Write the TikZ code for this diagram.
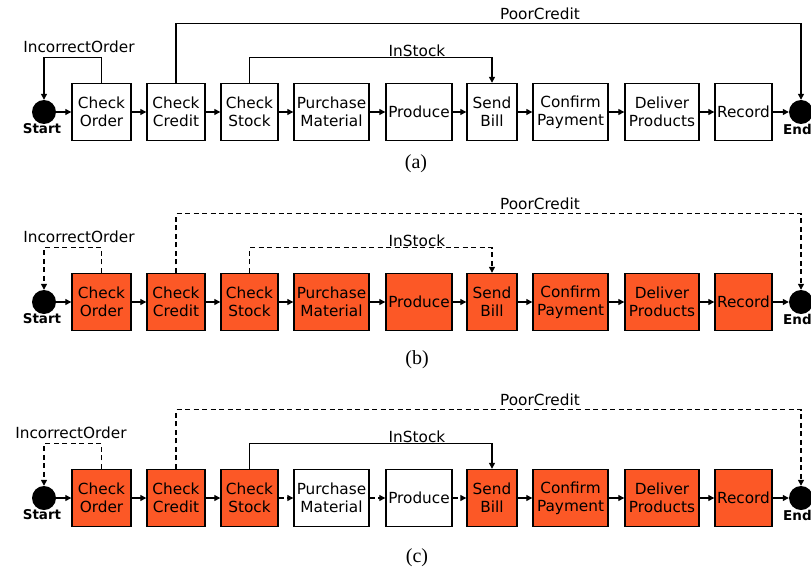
\documentclass[tikz,border=0pt]{standalone}
\usepackage{fontspec}
\setmainfont{Liberation Serif}
\setsansfont{DejaVu Sans}
\usetikzlibrary{arrows.meta}
\definecolor{hot}{RGB}{252,88,38}
\tikzset{
  box/.style={draw=black, line width=1.4bp, inner sep=0pt, minimum height=57bp, align=center,
    font=\sffamily\fontsize{15.3bp}{18bp}\selectfont, text=black},
  circ/.style={circle, fill=black, minimum size=24bp, inner sep=0pt},
  lab/.style={font=\sffamily\fontsize{15.3bp}{17bp}\selectfont, inner sep=0pt},
  slab/.style={font=\sffamily\bfseries\fontsize{13.5bp}{15bp}\selectfont, inner sep=0pt},
  conn/.style={line width=1.2bp, -{Triangle[length=6bp,width=6bp]}},
  dsh/.style={dash pattern=on 5bp off 3.5bp},
  capt/.style={font=\fontsize{20bp}{24bp}\selectfont, inner sep=0pt},
  fx/.style={fill=white}, fy/.style={fill=white},
  ex/.style={}, eis/.style={}, emid/.style={}
}
\newcommand\flowpanel[4]{%
\begin{scope}[yshift=-#2bp,#3]
  \node[circ] (#1st) at (44,112) {};
  \node[slab] (#1stl) at (42,129) {Start};
  \node[box,fx,minimum width=59bp] (#1co) at (101.5,112) {Check\\Order};
  \node[box,fx,minimum width=58bp] (#1cc) at (176,112) {Check\\Credit};
  \node[box,fx,minimum width=57bp] (#1cs) at (249.5,112) {Check\\Stock};
  \node[box,fy,minimum width=75bp] (#1pm) at (331.5,112) {Purchase\\Material};
  \node[box,fy,minimum width=66bp] (#1pr) at (419,112) {Produce};
  \node[box,fx,minimum width=50bp] (#1sb) at (492,112) {Send\\Bill};
  \node[box,fx,minimum width=75bp] (#1cp) at (570.5,112) {Confirm\\Payment};
  \node[box,fx,minimum width=74bp] (#1dp) at (662,112) {Deliver\\Products};
  \node[box,fx,minimum width=57bp] (#1re) at (743.5,112) {Record};
  \node[circ] (#1en) at (801,112) {};
  \node[slab,anchor=west] (#1enl) at (783,129) {End};
  \draw[conn] (#1st) -- (#1co);
  \draw[conn] (#1co) -- (#1cc);
  \draw[conn] (#1cc) -- (#1cs);
  \draw[conn,emid] (#1cs) -- (#1pm);
  \draw[conn,emid] (#1pm) -- (#1pr);
  \draw[conn,emid] (#1pr) -- (#1sb);
  \draw[conn] (#1sb) -- (#1cp);
  \draw[conn] (#1cp) -- (#1dp);
  \draw[conn] (#1dp) -- (#1re);
  \draw[conn] (#1re) -- (#1en);
  \draw[conn,ex] (#1co.north) -- ++(0,-25) -| (#1st.north);
  \node[lab] (#1iol) at (#4,47) {IncorrectOrder};
  \draw[conn,ex] (#1cc.north) -- ++(0,-59) -| (#1en.north);
  \node[lab] (#1pcl) at (540,14) {PoorCredit};
  \draw[conn,eis] (#1cs.north) -- ++(0,-25) -| (#1sb.north);
  \node[lab] (#1isl) at (417,51) {InStock};
\end{scope}}
\begin{document}
\begin{tikzpicture}[x=1bp,y=-1bp]
  \useasboundingbox (0,0) rectangle (811,569);
  \flowpanel{a}{0}{}{79}
  \node[capt] (capa) at (416,164) {(a)};
  \flowpanel{b}{190}{fx/.style={fill=hot}, fy/.style={fill=hot}, ex/.style={dsh}, eis/.style={dsh}}{79}
  \node[capt] (capb) at (417,360) {(b)};
  \flowpanel{c}{386}{fx/.style={fill=hot}, ex/.style={dsh}, emid/.style={dsh}}{71}
  \node[capt] (capc) at (417,558) {(c)};
\end{tikzpicture}
\end{document}
